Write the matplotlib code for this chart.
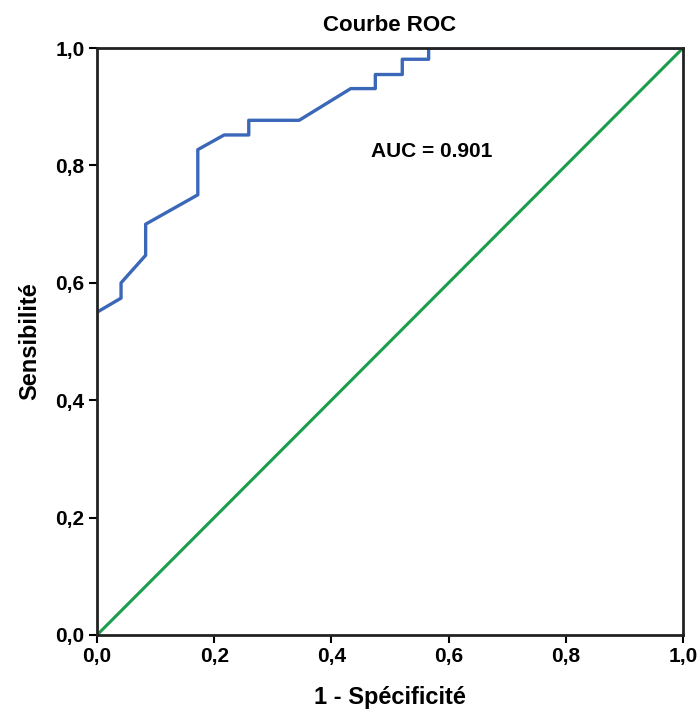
import matplotlib.pyplot as plt

# ROC curve points
fpr = [0.0, 0.041, 0.041, 0.083, 0.083, 0.172, 0.172, 0.217, 0.259, 0.259,
       0.345, 0.433, 0.475, 0.475, 0.521, 0.521, 0.566, 0.566, 1.0]
tpr = [0.55, 0.574, 0.60, 0.647, 0.70, 0.75, 0.827, 0.852, 0.852, 0.877,
       0.877, 0.931, 0.931, 0.955, 0.955, 0.981, 0.981, 1.0, 1.0]
ref_line = [0.0, 1.0]
ticks = [0.0, 0.2, 0.4, 0.6, 0.8, 1.0]
tick_labels = ["0,0", "0,2", "0,4", "0,6", "0,8", "1,0"]

plt.rcParams['font.family'] = ['Liberation Sans Narrow', 'Liberation Sans', 'DejaVu Sans']
plt.rcParams['font.weight'] = 'bold'

fig = plt.figure(figsize=(7, 7.18), dpi=100)
ax = fig.add_axes([0.1386, 0.1156, 0.837, 0.8174])

ax.plot(ref_line, ref_line, color='#1a9e4b', lw=2.2)
ax.plot(fpr, tpr, color='#3b67b9', lw=2.4)

ax.set_xlim(0, 1)
ax.set_ylim(0, 1)
ax.set_xticks(ticks)
ax.set_xticklabels(tick_labels)
ax.set_yticks(ticks)
ax.set_yticklabels(tick_labels)
ax.tick_params(direction='out', length=6, width=1.5, labelsize=15, pad=3)
for s in ax.spines.values():
    s.set_linewidth(2)
    s.set_color('#222222')

ax.text(0.467, 0.823, "AUC = 0.901", fontsize=15, fontweight='bold', va='center')
ax.set_title("Courbe ROC", fontsize=16, fontweight='bold', pad=12)
ax.set_xlabel("1 - Spécificité", fontsize=17, fontweight='bold', labelpad=14)
ax.set_ylabel("Sensibilité", fontsize=17, fontweight='bold', labelpad=10)

fig.savefig("out.png", dpi=100)
